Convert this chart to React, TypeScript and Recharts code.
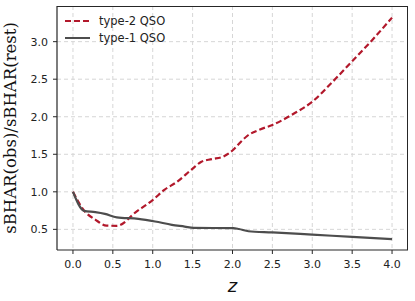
import { LineChart, Line, XAxis, YAxis, CartesianGrid, Label } from 'recharts';

const type2Z = [0, 0.14, 0.28, 0.42, 0.55, 0.8, 1.0, 1.15, 1.3, 1.49, 1.61, 1.74, 1.885, 2.01, 2.1, 2.18, 2.345, 2.5, 2.75, 3.0, 3.25, 3.5, 3.75, 4.0];
const type2Ratio = [1.0, 0.75, 0.63, 0.55, 0.547, 0.74, 0.89, 1.03, 1.13, 1.3, 1.4, 1.435, 1.47, 1.56, 1.66, 1.74, 1.83, 1.89, 2.03, 2.2, 2.46, 2.74, 3.02, 3.32];

const type1Z = [0, 0.14, 0.28, 0.4, 0.55, 0.82, 1.03, 1.24, 1.4, 1.51, 2.01, 2.08, 2.2, 2.5, 3.0, 3.5, 4.0];
const type1Ratio = [1.0, 0.747, 0.73, 0.707, 0.66, 0.64, 0.605, 0.56, 0.537, 0.52, 0.516, 0.505, 0.475, 0.46, 0.43, 0.4, 0.37];

const xTicks = [0, 0.5, 1, 1.5, 2, 2.5, 3, 3.5, 4];
const yTicks = [0.5, 1, 1.5, 2, 2.5, 3];

const X_DOMAIN: [number, number] = [-0.2, 4.2];
const Y_DOMAIN: [number, number] = [0.225, 3.475];

const RED = '#b2182b';
const GREY = '#4d4d4d';
const AXIS = '#262626';

const type2Data = type2Z.map((z, i) => ({ z, ratio: type2Ratio[i] }));
const type1Data = type1Z.map((z, i) => ({ z, ratio: type1Ratio[i] }));

const legendItems = [
  { name: 'type-2 QSO', color: RED, dash: '6 3' },
  { name: 'type-1 QSO', color: GREY, dash: undefined },
];

const tickStyle = { fill: '#222', fontSize: 11, fontFamily: 'DejaVu Sans' };

const App = () => {
  return (
    <div style={{ position: 'absolute', left: 0, top: 0, width: 415, height: 301, background: '#fff' }}>
      <LineChart width={415} height={301} margin={{ top: 6, right: 7, left: 0, bottom: 0 }}>
        <CartesianGrid stroke="#d6d6d6" strokeDasharray="4 3" horizontalValues={yTicks} verticalValues={xTicks} />
        <XAxis
          dataKey="z"
          type="number"
          domain={X_DOMAIN}
          ticks={xTicks}
          allowDataOverflow
          tickFormatter={(v) => v.toFixed(1)}
          tick={tickStyle}
          axisLine={{ stroke: AXIS, strokeWidth: 1.2 }}
          tickLine={{ stroke: AXIS }}
          tickSize={4}
          tickMargin={6}
          height={51}
        >
          <Label
            value="z"
            position="insideBottom"
            offset={9}
            style={{ fontFamily: 'DejaVu Sans', fontStyle: 'italic', fontSize: 18, fill: '#111' }}
          />
        </XAxis>
        <YAxis
          type="number"
          domain={Y_DOMAIN}
          ticks={yTicks}
          allowDataOverflow
          tickFormatter={(v) => v.toFixed(1)}
          tick={tickStyle}
          axisLine={{ stroke: AXIS, strokeWidth: 1.2 }}
          tickLine={{ stroke: AXIS }}
          tickSize={4}
          tickMargin={5}
          width={57}
        >
          <Label
            value="sBHAR(obs)/sBHAR(rest)"
            angle={-90}
            position="insideLeft"
            offset={0}
            dx={10}
            style={{ fontFamily: 'DejaVu Serif', fontSize: 16.5, fill: '#111', textAnchor: 'middle' }}
          />
        </YAxis>
        <Line
          data={type2Data}
          dataKey="ratio"
          name="type-2 QSO"
          type="monotone"
          stroke={RED}
          strokeWidth={2.2}
          strokeDasharray="6 3"
          dot={false}
          isAnimationActive={false}
        />
        <Line
          data={type1Data}
          dataKey="ratio"
          name="type-1 QSO"
          type="monotone"
          stroke={GREY}
          strokeWidth={2.2}
          dot={false}
          isAnimationActive={false}
        />
      </LineChart>
      {/* top and right spines */}
      <div
        style={{
          position: 'absolute',
          left: 57,
          top: 6,
          width: 351,
          height: 244,
          borderTop: `1.2px solid ${AXIS}`,
          borderRight: `1.2px solid ${AXIS}`,
          boxSizing: 'border-box',
          pointerEvents: 'none',
        }}
      />
      <div
        style={{
          position: 'absolute',
          left: 65,
          top: 12,
          fontFamily: 'DejaVu Sans',
          fontSize: 11.5,
          color: '#222',
          pointerEvents: 'none',
        }}
      >
        {legendItems.map((item) => (
          <div key={item.name} style={{ display: 'flex', alignItems: 'center', height: 17 }}>
            <svg width={26} height={6} style={{ marginRight: 8 }}>
              <line x1={0} y1={3} x2={25} y2={3} stroke={item.color} strokeWidth={2} strokeDasharray={item.dash} />
            </svg>
            <span>{item.name}</span>
          </div>
        ))}
      </div>
    </div>
  );
};

export default App;
